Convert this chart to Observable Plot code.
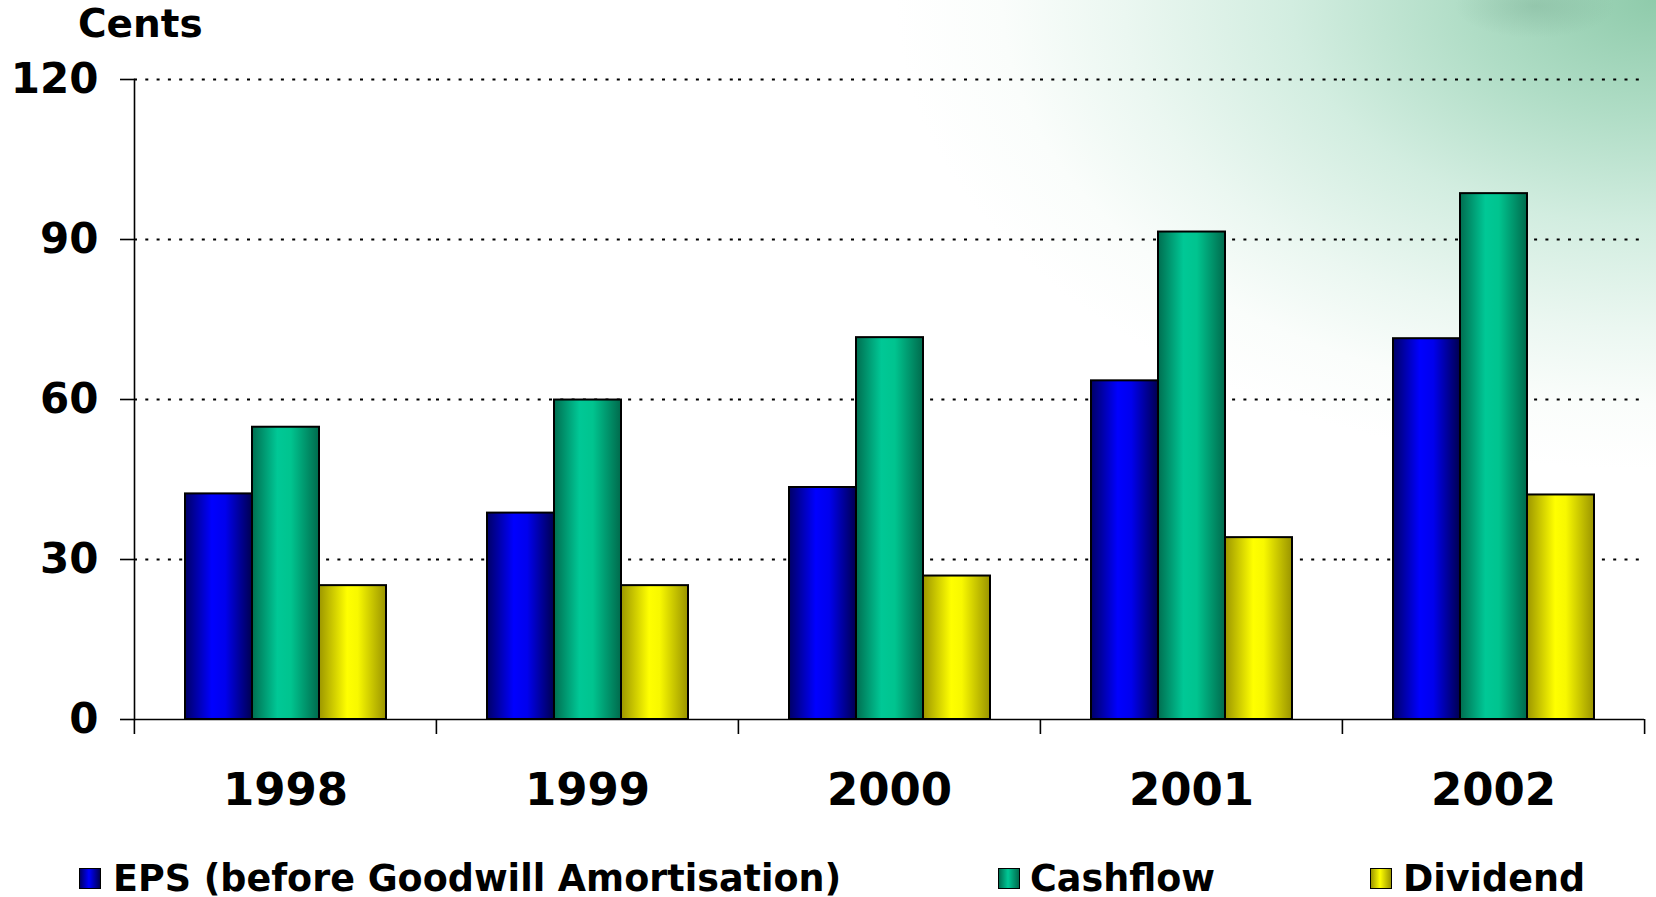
<!DOCTYPE html>
<html>
<head>
<meta charset="utf-8">
<script src="https://cdn.jsdelivr.net/npm/d3@7"></script>
<script src="https://cdn.jsdelivr.net/npm/@observablehq/plot@0.6"></script>
<style>
  html, body { margin: 0; padding: 0; }
  body { width: 1656px; height: 897px; overflow: hidden; font-family: "DejaVu Sans", sans-serif; }
  #page {
    position: relative; width: 1656px; height: 897px;
    background:
      radial-gradient(ellipse 80px 32px at 1535px 6px, rgba(110,160,135,0.3), rgba(110,160,135,0) 100%),
      radial-gradient(ellipse 760px 470px at 1656px 0px, #8fcbab 0%, #b0ddc6 25%, #d2ede0 48%, #ebf7f1 70%, #fafdfb 86%, #ffffff 100%),
      #ffffff;
  }
  #unit { height: 48px; line-height: 48px; font-size: 39px; font-weight: bold; padding-left: 78px; color: #000; }
  #chart svg { display: block; background: transparent; }
  #legend { position: relative; height: 47px; }
  .sw { position: absolute; top: 18px; width: 20px; height: 19px; border: 1.5px solid #000; }
  .lab { position: absolute; top: 5px; line-height: 47px; font-size: 36.5px; font-weight: bold; white-space: nowrap; color: #000; }
</style>
</head>
<body>
<div id="page">
  <div id="unit">Cents</div>
  <div id="chart"></div>
  <div id="legend"></div>
</div>
<svg width="0" height="0" style="position:absolute">
  <defs>
    <linearGradient id="gEPS" x1="0" x2="1" y1="0" y2="0">
      <stop offset="0" stop-color="#000066"/>
      <stop offset="0.4" stop-color="#0000ff"/>
      <stop offset="0.6" stop-color="#0000ee"/>
      <stop offset="1" stop-color="#000050"/>
    </linearGradient>
    <linearGradient id="gCash" x1="0" x2="1" y1="0" y2="0">
      <stop offset="0" stop-color="#006e50"/>
      <stop offset="0.38" stop-color="#00c896"/>
      <stop offset="0.58" stop-color="#00c48f"/>
      <stop offset="1" stop-color="#006a4c"/>
    </linearGradient>
    <linearGradient id="gDiv" x1="0" x2="1" y1="0" y2="0">
      <stop offset="0" stop-color="#9c9600"/>
      <stop offset="0.42" stop-color="#ffff00"/>
      <stop offset="0.58" stop-color="#f8f800"/>
      <stop offset="1" stop-color="#9a9400"/>
    </linearGradient>
  </defs>
</svg>
<script>
// ---- data ----
const years = ["1998", "1999", "2000", "2001", "2002"];
const seriesNames = ["EPS (before Goodwill Amortisation)", "Cashflow", "Dividend"];
const eps = [42.3, 38.7, 43.5, 63.5, 71.4];
const cashflow = [54.8, 59.9, 71.6, 91.4, 98.6];
const dividend = [25.1, 25.1, 26.9, 34.1, 42.1];
const yTicks = [0, 30, 60, 90, 120];
const gradients = ["url(#gEPS)", "url(#gCash)", "url(#gDiv)"];

const seriesValues = [eps, cashflow, dividend];
const rows = [];
years.forEach((yr, i) => {
  seriesNames.forEach((s, k) => rows.push({year: yr, series: s, value: seriesValues[k][i]}));
});

// ---- layout ----
const W = 1656, H = 802;
const mL = 133, mR = 12, mT = 31, mB = 131;
const bandW = (W - mL - mR) / years.length;

const chart = Plot.plot({
  width: W, height: H,
  marginLeft: mL, marginRight: mR, marginTop: mT, marginBottom: mB,
  style: {fontFamily: "DejaVu Sans", background: "transparent", color: "#000", overflow: "visible"},
  fx: {domain: years, padding: 0, label: null},
  x: {domain: seriesNames, paddingInner: 0, paddingOuter: 0.75, axis: null},
  y: {domain: [0, 120], axis: null},
  color: {domain: seriesNames, range: gradients},
  marks: [
    Plot.gridY(yTicks.filter(d => d > 0), {stroke: "#000", strokeOpacity: 1, strokeWidth: 1.8, strokeDasharray: "3,8.3"}),
    Plot.barY(rows, {fx: "year", x: "series", y: "value", fill: "series", stroke: "#000", strokeWidth: 2}),
    Plot.ruleY([0], {stroke: "#000", strokeWidth: 1.6}),
    Plot.frame({anchor: "left", facetAnchor: "left", stroke: "#000", strokeWidth: 1.6}),
    Plot.axisY({ticks: yTicks, tickSize: 14, tickPadding: 22, fontSize: 42, fontWeight: "bold", label: null, stroke: "#000", strokeWidth: 1.6}),
    Plot.axisFx({anchor: "bottom", tickSize: 0, tickPadding: 54, fontSize: 45, fontWeight: "bold", label: null}),
    Plot.axisFx({anchor: "bottom", tickSize: 15, tickFormat: () => "", label: null, dx: -bandW / 2, strokeWidth: 1.6}),
    Plot.axisFx({anchor: "bottom", ticks: years.slice(-1), tickSize: 15, tickFormat: () => "", label: null, dx: bandW / 2, strokeWidth: 1.6})
  ]
});
document.getElementById("chart").appendChild(chart);

// ---- legend ----
const legendPos = [{sw: 79, lab: 113}, {sw: 998, lab: 1030}, {sw: 1370, lab: 1403}];
const swatchStops = [["#000066", "#0000ff", "#000050"], ["#006e50", "#00c896", "#006a4c"], ["#9c9600", "#ffff00", "#9a9400"]];
const legend = document.getElementById("legend");
seriesNames.forEach((s, k) => {
  const sw = document.createElement("div");
  sw.className = "sw";
  sw.style.left = legendPos[k].sw + "px";
  const g = swatchStops[k];
  sw.style.background = `linear-gradient(to right, ${g[0]}, ${g[1]} 45%, ${g[2]})`;
  const lab = document.createElement("div");
  lab.className = "lab";
  lab.style.left = legendPos[k].lab + "px";
  lab.textContent = s;
  legend.appendChild(sw);
  legend.appendChild(lab);
});
</script>
</body>
</html>
